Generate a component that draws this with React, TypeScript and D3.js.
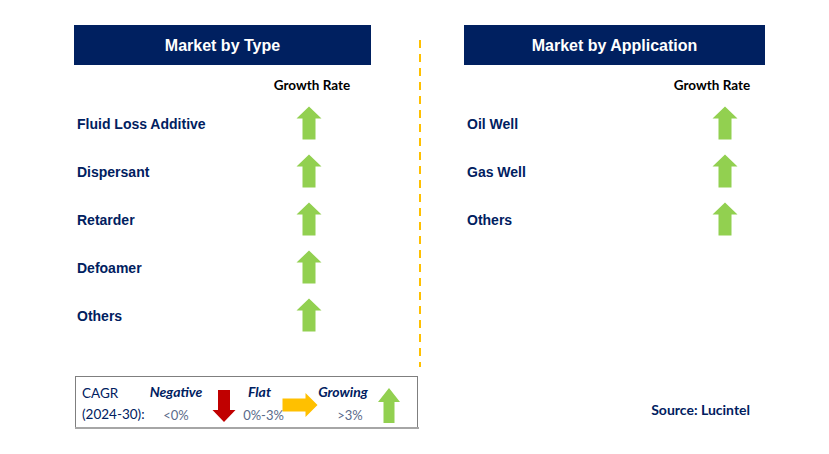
import React from "react";
import * as d3 from "d3";

const typeCategories = ["Fluid Loss Additive", "Dispersant", "Retarder", "Defoamer", "Others"];
const typeGrowth = ["up", "up", "up", "up", "up"];
const applicationCategories = ["Oil Well", "Gas Well", "Others"];
const applicationGrowth = ["up", "up", "up"];
const legendItems = [
  { label: "Negative", range: "<0%", dir: "down" },
  { label: "Flat", range: "0%-3%", dir: "right" },
  { label: "Growing", range: ">3%", dir: "up" },
];

const NAVY = "#002060";
const GREEN = "#92D050";
const RED = "#C00000";
const ORANGE = "#FFC000";
const W = 829;
const H = 454;
const ROW_STEP = 48;

// arrow shape pointing up/down/right, cx/cy = centre
function arrowPath(dir: string, cx: number, cy: number, len: number, headW: number, bodyW: number, headL: number) {
  const h = len / 2;
  const pts: [number, number][] = [
    [0, -h],
    [headW / 2, -h + headL],
    [bodyW / 2, -h + headL],
    [bodyW / 2, h],
    [-bodyW / 2, h],
    [-bodyW / 2, -h + headL],
    [-headW / 2, -h + headL],
  ];
  const rot = dir === "down" ? Math.PI : dir === "right" ? Math.PI / 2 : 0;
  const c = Math.cos(rot), s = Math.sin(rot);
  const line = d3.line();
  return line(pts.map(([x, y]) => [cx + x * c - y * s, cy + x * s + y * c] as [number, number])) + "Z";
}

function Panel({ title, x, width, categories, growth, arrowX, labelX }: any) {
  const y = d3
    .scalePoint<string>()
    .domain(categories)
    .range([124, 124 + ROW_STEP * (categories.length - 1)]);
  return (
    <g>
      <rect x={x} y={25} width={width} height={40} fill={NAVY} />
      <text x={x + width / 2} y={45} dy="0.35em" textAnchor="middle" fill="#fff"
        fontFamily="Liberation Sans, Arial, sans-serif" fontWeight="bold" fontSize={16}>{title}</text>
      <text x={labelX} y={85} dy="0.35em" textAnchor="middle" fill="#000"
        fontFamily="Lato, sans-serif" fontWeight="bold" fontSize={13.5}>Growth Rate</text>
      {categories.map((c: string, i: number) => (
        <g key={c}>
          <text x={x + 3} y={y(c)} dy="0.35em" fill={NAVY}
            fontFamily="Liberation Sans, Arial, sans-serif" fontWeight="bold" fontSize={14}>{c}</text>
          <path d={arrowPath(growth[i], arrowX, (y(c) as number) - 1, 33, 25, 13, 12)} fill={GREEN} />
        </g>
      ))}
    </g>
  );
}

export default function App() {
  const legendX = d3.scalePoint<string>().domain(legendItems.map((d) => d.label)).range([176, 343]);
  const arrowXs: Record<string, number> = { down: 224, right: 300, up: 389 };
  return (
    <svg width={W} height={H} style={{ position: "absolute", left: 0, top: 0, background: "#fff" }}>
      <Panel title="Market by Type" x={74} width={297} categories={typeCategories} growth={typeGrowth} arrowX={309} labelX={312} />
      <Panel title="Market by Application" x={464} width={301} categories={applicationCategories} growth={applicationGrowth} arrowX={725} labelX={712} />
      <line x1={420} x2={420} y1={40} y2={367} stroke={ORANGE} strokeWidth={2} strokeDasharray="8,6" />

      {/* legend */}
      <rect x={75.5} y={376.5} width={342} height={51} fill="#fff" stroke="#7F7F7F" strokeWidth={1} />
      <line x1={75} x2={419} y1={428} y2={428} stroke="#A6A6A6" strokeWidth={2} />
      <text x={82} y={398} fill={NAVY} fontFamily="Lato, sans-serif" fontSize={13.5}>CAGR</text>
      <text x={82} y={419} fill={NAVY} fontFamily="Lato, sans-serif" fontSize={13.5}>(2024-30):</text>
      {legendItems.map((d) => (
        <g key={d.label}>
          <text x={legendX(d.label)} y={397} textAnchor="middle" fill={NAVY} fontFamily="Lato, sans-serif"
            fontStyle="italic" fontWeight="bold" fontSize={14}>{d.label}</text>
          <text x={(legendX(d.label) as number) + (d.dir === "down" ? 0 : d.dir === "up" ? 7 : 4)} y={420} textAnchor="middle" fill="#5A6A8A"
            fontFamily="Lato, sans-serif" fontSize={13}>{d.range}</text>
        </g>
      ))}
      <path d={arrowPath("down", arrowXs.down, 406, 32, 23, 12, 12)} fill={RED} />
      <path d={arrowPath("right", arrowXs.right, 405, 35, 24, 13, 12)} fill={ORANGE} />
      <path d={arrowPath("up", arrowXs.up, 405.5, 35, 22, 11, 14)} fill={GREEN} />

      <text x={750} y={410} dy="0.35em" textAnchor="end" fill={NAVY} fontFamily="Lato, sans-serif"
        fontWeight="bold" fontSize={14}>Source: Lucintel</text>
    </svg>
  );
}
